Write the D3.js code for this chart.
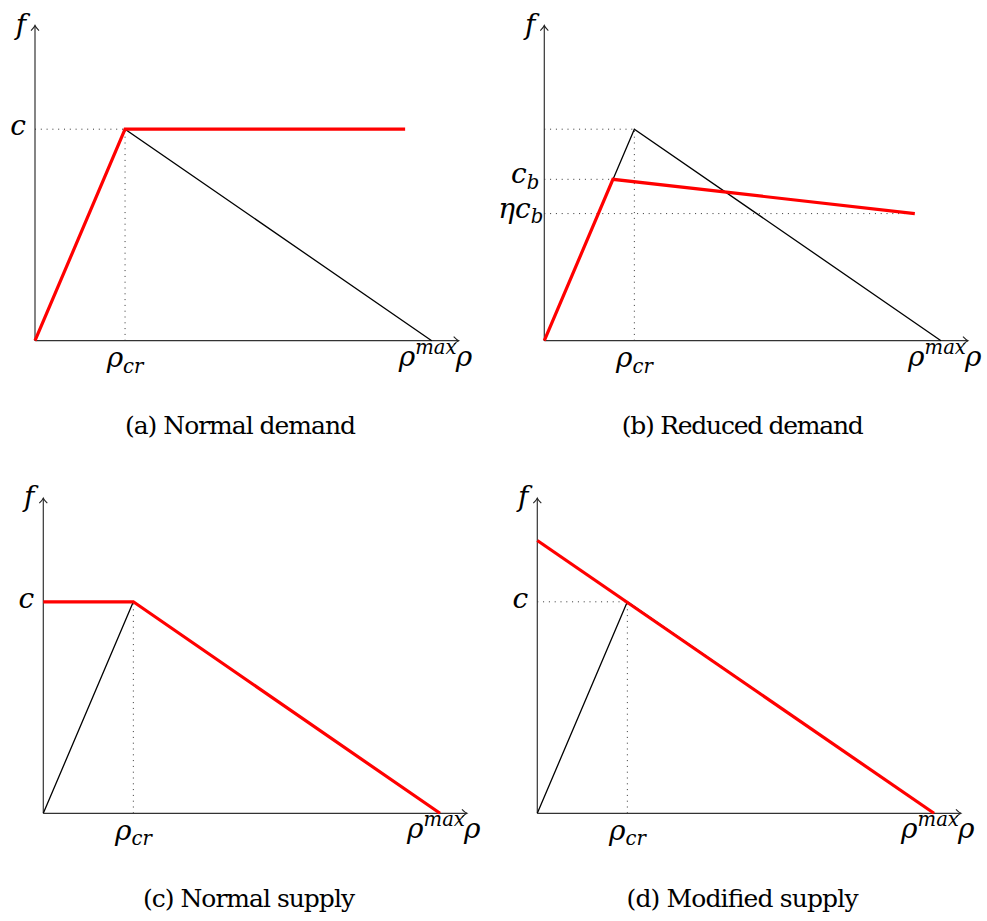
<!DOCTYPE html>
<html>
<head>
<meta charset="utf-8">
<script src="https://cdn.jsdelivr.net/npm/d3@7"></script>
<style>
  html, body { margin: 0; padding: 0; background: #fff; }
  svg { display: block; }
  svg text { font-family: "DejaVu Serif", "Liberation Serif", serif; }
</style>
</head>
<body>
<svg id="fig" width="987" height="921"></svg>
<script>
// Densities are normalised so that rho_max = 1 and the capacity c = 1.
const rhoCr = 0.227;
const rhoMax = 1;
const capacity = 1;
const axisEndX = 1.068;
const axisEndY = 1.49;

// Triangular fundamental diagram (black, on every panel)
const fundamental = [[0, 0], [0.227, 1], [1, 0]];

// Demand / supply curves (red)
const demandNormal   = [[0, 0], [0.227, 1], [0.933, 1]];
const demandReduced  = [[0, 0], [0.173, 0.763], [0.934, 0.601]];
const supplyNormal   = [[0, 1], [0.227, 1], [1, 0]];
const supplyModified = [[0, 1.29], [1, 0]];

// Reduced capacity levels
const cB = 0.763;
const etaCB = 0.601;
const kneeReduced = 0.173;
const endReduced = 0.934;

const captions = ["(a) Normal demand", "(b) Reduced demand", "(c) Normal supply", "(d) Modified supply"];

// Dotted guide segments, one list per panel
const guidesA = [[[0, capacity], [rhoCr, capacity]], [[rhoCr, 0], [rhoCr, capacity]]];
const guidesB = [[[0, capacity], [rhoCr, capacity]], [[rhoCr, 0], [rhoCr, capacity]],
                 [[0, cB], [kneeReduced, cB]], [[0, etaCB], [endReduced, etaCB]]];
const guidesC = [[[rhoCr, 0], [rhoCr, capacity]]];
const guidesD = [[[0, capacity], [rhoCr, capacity]], [[rhoCr, 0], [rhoCr, capacity]]];

// Labels on the f axis
const yLabelsA = [{v: capacity, parts: [{t: "c"}], dx: -9, dy: 6}];
const yLabelsB = [{v: cB, parts: [{t: "c"}, {t: "b", sub: true}], dx: -5, dy: 4},
                  {v: etaCB, parts: [{t: "ηc"}, {t: "b", sub: true}], dx: -1, dy: 4}];
const yLabelsC = [{v: capacity, parts: [{t: "c"}], dx: -9, dy: 6}];
const yLabelsD = [{v: capacity, parts: [{t: "c"}], dx: -9, dy: 6}];

// Panel placement
const unitW = 396.7, unitH = 211.5;
const panels = [
  {ox: 35,    oy: 340.7, cap: captions[0], capX: 240.5, capW: 231, red: demandNormal,   guides: guidesA, yLabels: yLabelsA},
  {ox: 544.3, oy: 340.7, cap: captions[1], capX: 742.8, capW: 242, red: demandReduced,  guides: guidesB, yLabels: yLabelsB},
  {ox: 43.3,  oy: 813.3, cap: captions[2], capX: 249,   capW: 212, red: supplyNormal,   guides: guidesC, yLabels: yLabelsC},
  {ox: 537.3, oy: 813.3, cap: captions[3], capX: 742.5, capW: 232, red: supplyModified, guides: guidesD, yLabels: yLabelsD}
];

const svg = d3.select("#fig");

function mathText(g, x, y, anchor, parts, size) {
  const t = g.append("text")
    .attr("x", x).attr("y", y)
    .attr("text-anchor", anchor)
    .style("font-style", "italic")
    .style("font-size", size + "px")
    .attr("fill", "#000");
  let shift = 0;
  parts.forEach(p => {
    const target = p.sub ? 5.5 : p.sup ? -12 : 0;
    t.append("tspan")
      .attr("dy", target - shift)
      .style("font-size", ((p.sub || p.sup) ? size * 0.7 : size) + "px")
      .text(p.t);
    shift = target;
  });
  return t;
}

function arrowHead(g, x, y, dir) {
  // open "to" style arrow tip
  const path = dir === "right"
    ? `M${x - 5},${y - 4} Q${x - 2},${y - 0.8} ${x},${y} Q${x - 2},${y + 0.8} ${x - 5},${y + 4}`
    : `M${x - 4},${y + 5} Q${x - 0.8},${y + 2} ${x},${y} Q${x + 0.8},${y + 2} ${x + 4},${y + 5}`;
  g.append("path").attr("d", path).attr("fill", "none")
    .attr("stroke", "#222").attr("stroke-width", 1.1);
}

panels.forEach(p => {
  const g = svg.append("g");
  const x = d3.scaleLinear().domain([0, rhoMax]).range([p.ox, p.ox + unitW]);
  const y = d3.scaleLinear().domain([0, capacity]).range([p.oy, p.oy - unitH]);
  const line = d3.line().x(d => x(d[0])).y(d => y(d[1]));

  // dotted guides
  g.selectAll("path.guide").data(p.guides).join("path")
    .attr("class", "guide")
    .attr("d", line)
    .attr("fill", "none")
    .attr("stroke", "#333")
    .attr("stroke-width", 1)
    .attr("stroke-dasharray", "1 4.8");

  // axes
  g.append("path").attr("d", line([[0, 0], [axisEndX, 0]]))
    .attr("stroke", "#333").attr("stroke-width", 1.2).attr("fill", "none");
  g.append("path").attr("d", line([[0, 0], [0, axisEndY]]))
    .attr("stroke", "#333").attr("stroke-width", 1.2).attr("fill", "none");
  arrowHead(g, x(axisEndX), y(0), "right");
  arrowHead(g, x(0), y(axisEndY), "up");

  // fundamental diagram
  g.append("path").attr("d", line(fundamental))
    .attr("fill", "none").attr("stroke", "#000").attr("stroke-width", 1.3)
    .attr("stroke-linejoin", "miter");

  // demand / supply curve
  g.append("path").attr("d", line(p.red))
    .attr("fill", "none").attr("stroke", "#ff0000").attr("stroke-width", 3.2)
    .attr("stroke-linejoin", "miter");

  // axis labels
  mathText(g, x(0) - 9, y(axisEndY) + 8, "end", [{t: "f"}], 28);
  mathText(g, x(rhoCr), p.oy + 26.5, "middle", [{t: "ρ"}, {t: "cr", sub: true}], 28);
  mathText(g, x(rhoMax) - 4, p.oy + 25, "middle", [{t: "ρ"}, {t: "max", sup: true}], 28);
  mathText(g, p.ox + 429, p.oy + 25, "middle", [{t: "ρ"}], 28);

  p.yLabels.forEach(l => {
    mathText(g, x(0) + l.dx, y(l.v) + l.dy, "end", l.parts, 28);
  });

  // caption
  g.append("text")
    .attr("x", p.capX).attr("y", p.oy + 93.5)
    .attr("text-anchor", "middle")
    .style("font-size", "25px")
    .attr("textLength", p.capW)
    .attr("lengthAdjust", "spacing")
    .attr("fill", "#000")
    .text(p.cap);
});
</script>
</body>
</html>
